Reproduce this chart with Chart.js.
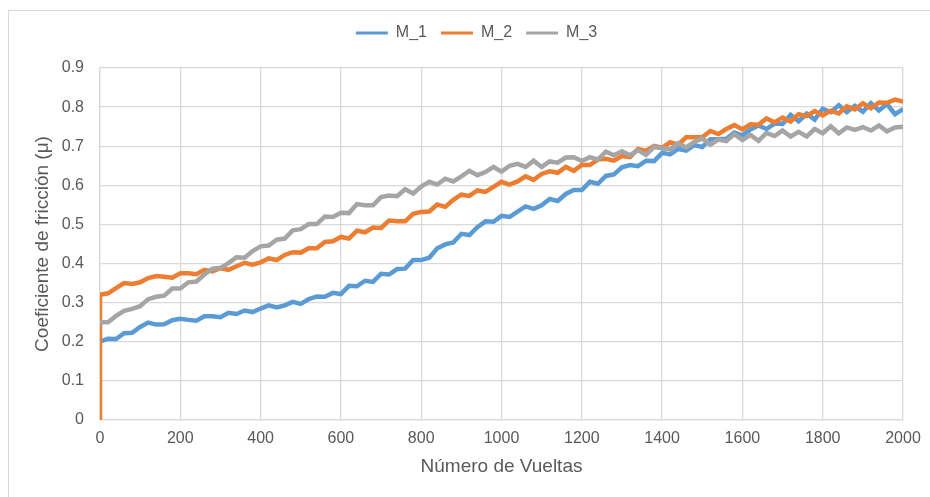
<!DOCTYPE html>
<html>
<head>
<meta charset="utf-8">
<script src="https://cdn.jsdelivr.net/npm/chart.js@4"></script>
<style>
  html, body { margin: 0; padding: 0; background: #fff; overflow: hidden; }
  #marco { position: absolute; left: 8px; top: 10px; width: 1000px; height: 1000px; border: 1.5px solid #d9d9d9; }
  #grafico { position: absolute; left: 0; top: 0; }
</style>
</head>
<body>
<div id="marco"></div>
<canvas id="grafico" width="930" height="497"></canvas>
<script>
// Número de vueltas (eje X)
const vueltas = [
    0, 20, 40, 60, 80, 100, 120, 140, 160, 180,
    200, 220, 240, 260, 280, 300, 320, 340, 360, 380,
    400, 420, 440, 460, 480, 500, 520, 540, 560, 580,
    600, 620, 640, 660, 680, 700, 720, 740, 760, 780,
    800, 820, 840, 860, 880, 900, 920, 940, 960, 980,
    1000, 1020, 1040, 1060, 1080, 1100, 1120, 1140, 1160, 1180,
    1200, 1220, 1240, 1260, 1280, 1300, 1320, 1340, 1360, 1380,
    1400, 1420, 1440, 1460, 1480, 1500, 1520, 1540, 1560, 1580,
    1600, 1620, 1640, 1660, 1680, 1700, 1720, 1740, 1760, 1780,
    1800, 1820, 1840, 1860, 1880, 1900, 1920, 1940, 1960, 1980,
    2000
];

// coeficiente de fricción de cada muestra
const m1 = [
    0.200, 0.208, 0.207, 0.222, 0.223, 0.238, 0.249, 0.244, 0.245, 0.255,
    0.259, 0.256, 0.254, 0.265, 0.265, 0.263, 0.274, 0.271, 0.280, 0.276,
    0.285, 0.293, 0.288, 0.293, 0.302, 0.297, 0.309, 0.316, 0.315, 0.325,
    0.322, 0.343, 0.342, 0.356, 0.353, 0.374, 0.372, 0.386, 0.387, 0.409,
    0.409, 0.415, 0.439, 0.449, 0.454, 0.476, 0.473, 0.493, 0.508, 0.507,
    0.522, 0.519, 0.533, 0.546, 0.540, 0.549, 0.565, 0.560, 0.578, 0.588,
    0.588, 0.609, 0.604, 0.624, 0.628, 0.646, 0.652, 0.649, 0.663, 0.662,
    0.683, 0.679, 0.693, 0.689, 0.703, 0.698, 0.718, 0.718, 0.719, 0.735,
    0.728, 0.743, 0.753, 0.744, 0.758, 0.757, 0.780, 0.764, 0.783, 0.768,
    0.796, 0.787, 0.805, 0.787, 0.803, 0.788, 0.810, 0.791, 0.808, 0.782,
    0.795
];
const m2 = [
    0.320, 0.324, 0.337, 0.350, 0.348, 0.352, 0.363, 0.368, 0.366, 0.364,
    0.375, 0.375, 0.373, 0.384, 0.380, 0.388, 0.384, 0.393, 0.402, 0.397,
    0.403, 0.413, 0.409, 0.422, 0.429, 0.428, 0.439, 0.439, 0.455, 0.457,
    0.468, 0.464, 0.484, 0.480, 0.492, 0.491, 0.510, 0.508, 0.508, 0.527,
    0.532, 0.533, 0.551, 0.545, 0.563, 0.576, 0.573, 0.587, 0.583, 0.596,
    0.609, 0.602, 0.610, 0.623, 0.614, 0.629, 0.636, 0.632, 0.647, 0.637,
    0.652, 0.652, 0.666, 0.668, 0.663, 0.675, 0.672, 0.693, 0.688, 0.701,
    0.696, 0.710, 0.704, 0.723, 0.723, 0.723, 0.739, 0.731, 0.744, 0.754,
    0.743, 0.756, 0.755, 0.771, 0.761, 0.773, 0.763, 0.782, 0.777, 0.790,
    0.779, 0.791, 0.784, 0.802, 0.794, 0.810, 0.797, 0.812, 0.811, 0.819,
    0.814
];
const m3 = [
    0.250, 0.250, 0.266, 0.279, 0.284, 0.291, 0.309, 0.315, 0.318, 0.336,
    0.336, 0.352, 0.354, 0.372, 0.387, 0.389, 0.401, 0.416, 0.415, 0.432,
    0.444, 0.446, 0.461, 0.464, 0.485, 0.488, 0.501, 0.501, 0.520, 0.519,
    0.530, 0.529, 0.552, 0.549, 0.549, 0.570, 0.574, 0.572, 0.590, 0.579,
    0.597, 0.609, 0.602, 0.617, 0.610, 0.623, 0.637, 0.626, 0.634, 0.647,
    0.635, 0.650, 0.655, 0.647, 0.663, 0.647, 0.661, 0.658, 0.671, 0.672,
    0.662, 0.672, 0.666, 0.686, 0.677, 0.687, 0.677, 0.690, 0.678, 0.698,
    0.695, 0.692, 0.708, 0.697, 0.711, 0.720, 0.704, 0.717, 0.713, 0.731,
    0.716, 0.729, 0.714, 0.734, 0.726, 0.740, 0.725, 0.737, 0.725, 0.744,
    0.733, 0.751, 0.733, 0.748, 0.742, 0.749, 0.740, 0.753, 0.738, 0.748,
    0.750
];
// M_2 arranca desde cero en la vuelta 0
const m2Arranque = [0];

const ticksX = [0, 200, 400, 600, 800, 1000, 1200, 1400, 1600, 1800, 2000];
const ticksY = [0, 0.1, 0.2, 0.3, 0.4, 0.5, 0.6, 0.7, 0.8, 0.9];

const fuente = '"Liberation Sans", Arial, sans-serif';
const gris = '#595959';

function puntos(serie) {
    return serie.map((v, i) => ({ x: vueltas[i], y: v }));
}

// separa la leyenda del área del gráfico y la corre un poco a la derecha
const ajusteLeyenda = {
    id: 'ajusteLeyenda',
    beforeInit(chart) {
        const fitOriginal = chart.legend.fit;
        chart.legend.fit = function () {
            fitOriginal.call(this);
            this.height += 17;
        };
    },
    afterLayout(chart) {
        chart.legend.left += 12;
        chart.legend.right += 12;
    }
};

const ctx = document.getElementById('grafico').getContext('2d');
const grafico = new Chart(ctx, {
    type: 'line',
    data: {
        datasets: [
            {
                label: 'M_1',
                data: puntos(m1),
                borderColor: '#5B9BD5',
                backgroundColor: '#5B9BD5',
                order: 3
            },
            {
                label: 'M_2',
                data: m2Arranque.map(v => ({ x: 0, y: v })).concat(puntos(m2)),
                borderColor: '#ED7D31',
                backgroundColor: '#ED7D31',
                order: 2
            },
            {
                label: 'M_3',
                data: puntos(m3),
                borderColor: '#A5A5A5',
                backgroundColor: '#A5A5A5',
                order: 1
            }
        ]
    },
    options: {
        responsive: false,
        animation: false,
        layout: { padding: { left: 26, right: 27, top: 11, bottom: 0 } },
        elements: {
            point: { radius: 0 },
            line: { borderWidth: 4.5, tension: 0 }
        },
        plugins: {
            tooltip: { enabled: false },
            legend: {
                position: 'top',
                labels: {
                    color: gris,
                    font: { family: fuente, size: 16 },
                    boxWidth: 32,
                    boxHeight: 3,
                    padding: 14,
                    sort: (a, b) => a.datasetIndex - b.datasetIndex,
                    generateLabels(chart) {
                        return Chart.defaults.plugins.legend.labels.generateLabels(chart)
                            .map(item => Object.assign(item, { lineWidth: 0 }));
                    }
                }
            }
        },
        scales: {
            x: {
                type: 'linear',
                min: 0,
                max: 2000,
                afterBuildTicks: scale => { scale.ticks = ticksX.map(v => ({ value: v })); },
                afterFit: scale => { scale.height = 77; },
                grid: { color: '#d9d9d9', lineWidth: 1.3, drawTicks: false },
                border: { color: '#d9d9d9', width: 1.3 },
                ticks: {
                    color: gris,
                    padding: 9,
                    maxRotation: 0,
                    font: { family: fuente, size: 16 },
                    callback: v => String(v)
                },
                title: {
                    display: true,
                    text: 'Número de Vueltas',
                    color: gris,
                    padding: { top: 4, bottom: 19 },
                    font: { family: fuente, size: 19 }
                }
            },
            y: {
                min: 0,
                max: 0.9,
                afterBuildTicks: scale => { scale.ticks = ticksY.map(v => ({ value: v })); },
                afterFit: scale => { scale.width = 74; },
                grid: { color: '#d9d9d9', lineWidth: 1.3, drawTicks: false },
                border: { color: '#d9d9d9', width: 1.3 },
                ticks: {
                    color: gris,
                    padding: 16,
                    font: { family: fuente, size: 16 },
                    callback: v => (v === 0 ? '0' : v.toFixed(1))
                },
                title: {
                    display: true,
                    text: 'Coeficiente de fricción (μ)',
                    color: gris,
                    padding: { top: 5, bottom: 4 },
                    font: { family: fuente, size: 19 }
                }
            }
        }
    },
    plugins: [ajusteLeyenda]
});
</script>
</body>
</html>
